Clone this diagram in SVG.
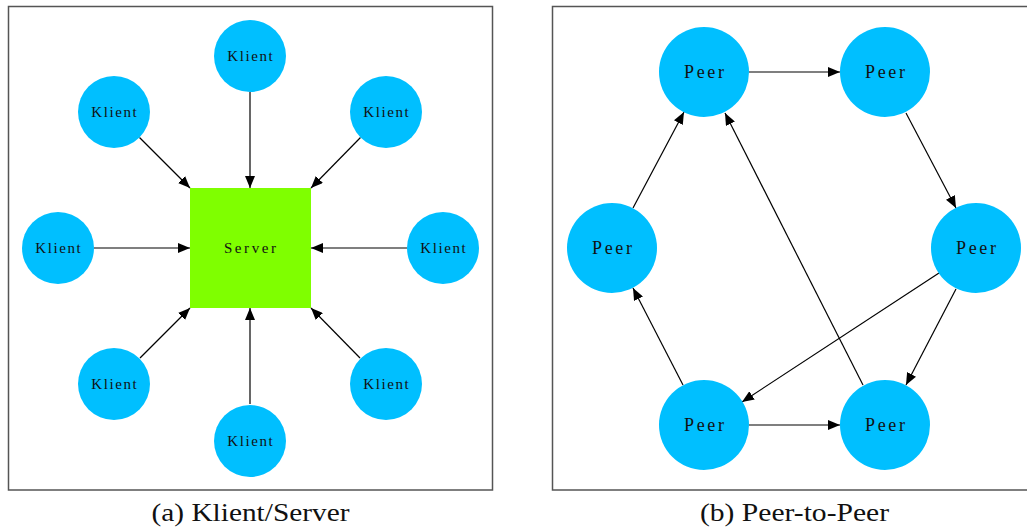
<svg xmlns="http://www.w3.org/2000/svg" width="1027" height="528" viewBox="0 0 1027 528">
<style>
.frame{fill:#fff;stroke:#555;stroke-width:1.5}
.cl{fill:#00BFFF}
.srv{fill:#7FFF00}
.kt{font-family:"Liberation Serif",serif;font-size:15px;letter-spacing:1.6px;fill:#111;text-anchor:middle}
.st{font-family:"Liberation Serif",serif;font-size:15px;letter-spacing:2.6px;fill:#111;text-anchor:middle}
.pt{font-family:"Liberation Serif",serif;font-size:18px;letter-spacing:2.6px;fill:#111;text-anchor:middle}
.cap{font-family:"Liberation Serif",serif;font-size:25px;fill:#111;text-anchor:middle}
.e{stroke:#000;stroke-width:1.2;fill:none;marker-end:url(#ah)}
</style>
<defs>
<marker id="ah" markerUnits="userSpaceOnUse" markerWidth="12" markerHeight="10" viewBox="0 0 12 10" refX="12" refY="5" orient="auto">
<path d="M0,0 L12,5 L0,10 Z" fill="#000"/>
</marker>
</defs>
<rect class="frame" x="8.5" y="6.5" width="484" height="483.5"/>
<rect class="frame" x="552.5" y="6.5" width="480" height="483.5"/>
<g id="connectors">
<line class="e" x1="250" y1="92" x2="250" y2="188"/>
<line class="e" x1="139.5" y1="137.5" x2="190" y2="188"/>
<line class="e" x1="360.5" y1="137.5" x2="311" y2="188"/>
<line class="e" x1="94" y1="248" x2="190" y2="248"/>
<line class="e" x1="407" y1="248" x2="311" y2="248"/>
<line class="e" x1="140" y1="358" x2="190" y2="308"/>
<line class="e" x1="250" y1="404" x2="250" y2="308"/>
<line class="e" x1="360" y1="358" x2="311" y2="308"/>
<line class="e" x1="749" y1="72" x2="840" y2="72"/>
<line class="e" x1="906" y1="113" x2="956" y2="208"/>
<line class="e" x1="633" y1="208" x2="684" y2="112"/>
<line class="e" x1="863" y1="385" x2="725" y2="113"/>
<line class="e" x1="939" y1="273" x2="742" y2="402"/>
<line class="e" x1="956" y1="289" x2="906" y2="385"/>
<line class="e" x1="683" y1="385" x2="633" y2="288"/>
<line class="e" x1="749" y1="425" x2="840" y2="425"/>
</g>
<g id="server"><rect class="srv" x="190" y="188" width="121" height="120"/><text class="st" x="251.3" y="253">Server</text></g>
<g id="k1"><circle class="cl" cx="250" cy="56" r="36"/><text class="kt" x="250.8" y="61">Klient</text></g>
<g id="k2"><circle class="cl" cx="114" cy="112" r="36"/><text class="kt" x="114.8" y="117">Klient</text></g>
<g id="k3"><circle class="cl" cx="386" cy="112" r="36"/><text class="kt" x="386.8" y="117">Klient</text></g>
<g id="k4"><circle class="cl" cx="58" cy="248" r="36"/><text class="kt" x="58.8" y="253">Klient</text></g>
<g id="k5"><circle class="cl" cx="443" cy="248" r="36"/><text class="kt" x="443.8" y="253">Klient</text></g>
<g id="k6"><circle class="cl" cx="114" cy="384" r="36"/><text class="kt" x="114.8" y="389">Klient</text></g>
<g id="k7"><circle class="cl" cx="250" cy="441" r="36"/><text class="kt" x="250.8" y="446">Klient</text></g>
<g id="k8"><circle class="cl" cx="386" cy="384" r="36"/><text class="kt" x="386.8" y="389">Klient</text></g>
<g id="p1"><circle class="cl" cx="704" cy="72" r="45"/><text class="pt" x="705.3" y="78">Peer</text></g>
<g id="p2"><circle class="cl" cx="885" cy="72" r="45"/><text class="pt" x="886.3" y="78">Peer</text></g>
<g id="p3"><circle class="cl" cx="612" cy="248" r="45"/><text class="pt" x="613.3" y="254">Peer</text></g>
<g id="p4"><circle class="cl" cx="976" cy="248" r="45"/><text class="pt" x="977.3" y="254">Peer</text></g>
<g id="p5"><circle class="cl" cx="704" cy="425" r="45"/><text class="pt" x="705.3" y="431">Peer</text></g>
<g id="p6"><circle class="cl" cx="885" cy="425" r="45"/><text class="pt" x="886.3" y="431">Peer</text></g>
<text class="cap" x="250.5" y="521" textLength="198" lengthAdjust="spacingAndGlyphs">(a) Klient/Server</text>
<text class="cap" x="794.5" y="521" textLength="189" lengthAdjust="spacingAndGlyphs">(b) Peer-to-Peer</text>
</svg>
